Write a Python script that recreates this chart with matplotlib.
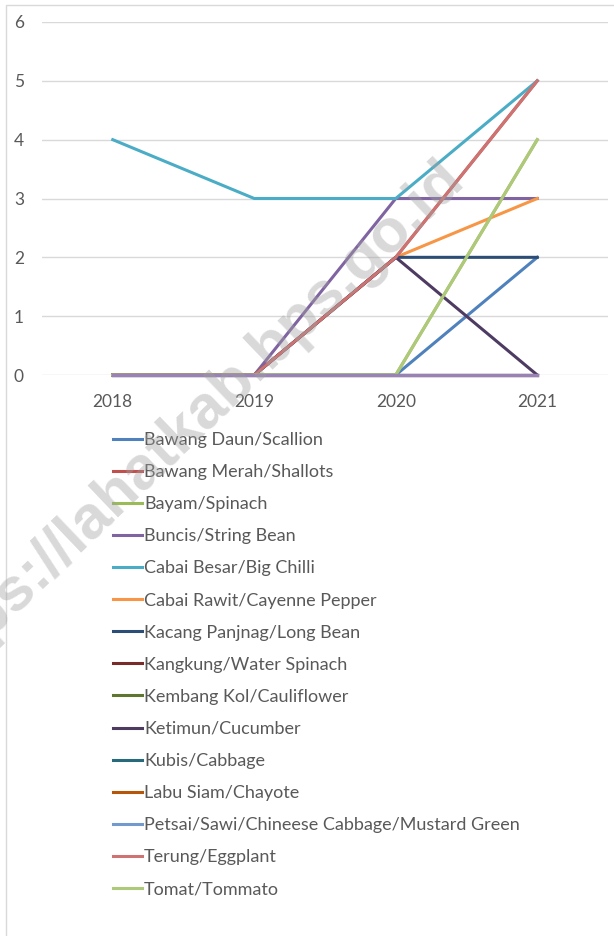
import matplotlib.pyplot as plt
from matplotlib.patches import Rectangle

years = ['2018', '2019', '2020', '2021']

labels = [
    'Bawang Daun/Scallion',
    'Bawang Merah/Shallots',
    'Bayam/Spinach',
    'Buncis/String Bean',
    'Cabai Besar/Big Chilli',
    'Cabai Rawit/Cayenne Pepper',
    'Kacang Panjnag/Long Bean',
    'Kangkung/Water Spinach',
    'Kembang Kol/Cauliflower',
    'Ketimun/Cucumber',
    'Kubis/Cabbage',
    'Labu Siam/Chayote',
    'Petsai/Sawi/Chineese Cabbage/Mustard Green',
    'Terung/Eggplant',
    'Tomat/Tommato',
]

bawang_daun = [0, 0, 0, 2]
bawang_merah = [0, 0, 2, 5]
bayam = [0, 0, 0, 4]
buncis = [0, 0, 3, 3]
cabai_besar = [4, 3, 3, 5]
cabai_rawit = [0, 0, 2, 3]
kacang_panjang = [0, 0, 2, 2]
kangkung = [0, 0, 0, 0]
kembang_kol = [0, 0, 0, 0]
ketimun = [0, 0, 2, 0]
kubis = [0, 0, 0, 0]
labu_siam = [0, 0, 0, 0]
petsai = [0, 0, 0, 0]
terung = [0, 0, 2, 5]
tomat = [0, 0, 0, 4]

series = [bawang_daun, bawang_merah, bayam, buncis, cabai_besar, cabai_rawit,
          kacang_panjang, kangkung, kembang_kol, ketimun, kubis, labu_siam,
          petsai, terung, tomat]

# Excel 2010 palette
colors = ['#4F81BD', '#C0504D', '#9BBB59', '#8064A2', '#4BACC6', '#F79646',
          '#2C4D75', '#772C2A', '#5F7530', '#4D3B62', '#276A7C', '#B65708',
          '#729ACA', '#CD7371', '#AFC97A']

plt.rcParams['font.family'] = ['Lato', 'DejaVu Sans']

fig = plt.figure(figsize=(6.14, 9.36), dpi=100)
ax = fig.add_axes([42 / 614, 1 - 375 / 936, 566 / 614, 353 / 936])

x = range(len(years))
for vals, lab, col in zip(series, labels, colors):
    ax.plot(x, vals, color=col, lw=2.2, label=lab, clip_on=False)
# the purple bottom line sits on top in the reference
ax.plot(x, [0, 0, 0, 0], color='#9983B5', lw=2.4, zorder=3, clip_on=False)

ax.set_xlim(-0.5, 3.5)
ax.set_ylim(0, 6)
ax.set_yticks(range(7))
ax.set_xticks(list(x))
ax.set_xticklabels(years)
ax.tick_params(length=0, labelsize=12.5, labelcolor='#595959')
ax.tick_params(axis='y', pad=13)
ax.tick_params(axis='x', pad=14)
ax.grid(axis='y', color='#D9D9D9', lw=1)
ax.set_axisbelow(True)
for s in ax.spines.values():
    s.set_visible(False)

handles, lbls = ax.get_legend_handles_labels()
fig.legend(handles, lbls, loc='upper left', bbox_to_anchor=(106 / 614, 1 - 425 / 936),
           frameon=False, fontsize=13, labelcolor='#595959', handlelength=1.6,
           handletextpad=0.1, labelspacing=0.89, borderaxespad=0)

# chart area border
fig.add_artist(Rectangle((6 / 614, -0.01), 1.1, 1 - 5 / 936 + 0.01, transform=fig.transFigure,
                         fill=False, edgecolor='#D9D9D9', lw=1))

# watermark, semi-transparent over the chart
fig.text(188 / 614, 1 - 426 / 936, 'https://lahatkab.bps.go.id', rotation=43.7,
         ha='center', va='center', fontsize=44, fontweight='bold',
         family='Liberation Sans', color='#A0A0A0', alpha=0.4, zorder=10)

fig.savefig('out.png', dpi=100)
